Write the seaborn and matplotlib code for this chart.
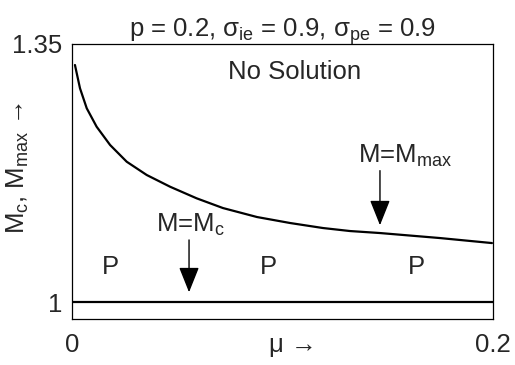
import numpy as np
import pandas as pd
import matplotlib
matplotlib.use('Agg')
import matplotlib.pyplot as plt
import seaborn as sns

# curve M = M_max
mu_vals = [0.0014, 0.0038, 0.0070, 0.0117, 0.0181, 0.0260, 0.0355, 0.0466,
           0.0592, 0.0717, 0.0879, 0.1036, 0.1192, 0.1321, 0.1463, 0.1748, 0.1995]
mmax_vals = [1.3215, 1.2899, 1.2628, 1.2378, 1.2130, 1.1903, 1.1723, 1.1564,
             1.1407, 1.1275, 1.1153, 1.1072, 1.1004, 1.0963, 1.0936, 1.0868, 1.0800]
# horizontal line M = M_c
mc_mu = [0.0, 0.2]
mc_vals = [1.0, 1.0]

x_ticks = [0, 0.2]
x_ticklabels = ['0', '0.2']
y_ticks = [1, 1.35]
y_ticklabels = ['1', '1.35']
p_positions = [0.0181, 0.0931, 0.1634]

FS = 18.5

sns.set_style('white')
plt.rcParams['font.family'] = ['Liberation Sans', 'DejaVu Sans']
plt.rcParams['mathtext.default'] = 'regular'

fig = plt.figure(figsize=(5.15, 3.65), dpi=100)
ax = fig.add_axes([0.1398, 0.126, 0.8175, 0.7535])

curve = pd.DataFrame({'mu': mu_vals, 'M': mmax_vals})
sns.lineplot(data=curve, x='mu', y='M', color='black', linewidth=1.6, ax=ax)
line = pd.DataFrame({'mu': mc_mu, 'M': mc_vals})
sns.lineplot(data=line, x='mu', y='M', color='black', linewidth=1.6, ax=ax)

ax.set_xlim(0, 0.2)
ax.set_ylim(0.977, 1.35)
ax.set_xticks(x_ticks)
ax.set_xticklabels(x_ticklabels)
ax.set_yticks(y_ticks)
ax.set_yticklabels(y_ticklabels)
ax.tick_params(axis='y', length=0, labelsize=FS, pad=7)
ax.tick_params(axis='x', length=0, labelsize=FS, pad=10)

for s in ax.spines.values():
    s.set_color('black')
    s.set_linewidth(0.9)

ax.set_title(r'p = 0.2, $\sigma_{ie}$ = 0.9, $\sigma_{pe}$ = 0.9', fontsize=FS, pad=5)
ax.set_xlabel('\u03bc \u2192', fontsize=FS)
ax.xaxis.set_label_coords(0.525, -0.05)
ax.set_ylabel("M$_c$, M$_{max}$ \u2192", fontsize=FS)
ax.yaxis.set_label_coords(-0.097, 0.55)

ax.text(0.1055, 1.312, 'No Solution', fontsize=FS, ha='center', va='center')
for px in p_positions:
    ax.text(px, 1.0475, 'P', fontsize=FS, ha='center', va='center')

arrow = dict(arrowstyle='-|>,head_length=0.85,head_width=0.34', color='black', lw=1.0)
ax.annotate('', xy=(0.0556, 1.0095), xytext=(0.0556, 1.088), arrowprops=arrow, fontsize=FS)
ax.text(0.0561, 1.095, r'M=M$_c$', fontsize=FS, ha='center', va='baseline')
ax.annotate('', xy=(0.1463, 1.1004), xytext=(0.1463, 1.182), arrowprops=arrow, fontsize=FS)
ax.text(0.158, 1.1886, r'M=M$_{max}$', fontsize=FS, ha='center', va='baseline')

fig.savefig('out.png', dpi=100)
